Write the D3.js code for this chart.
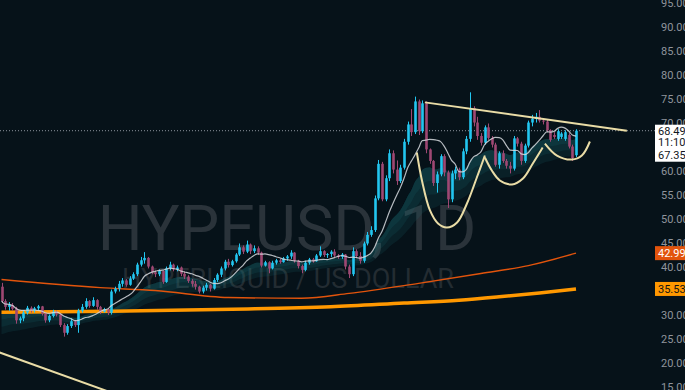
<!DOCTYPE html>
<html>
<head>
<meta charset="utf-8">
<script src="https://cdn.jsdelivr.net/npm/d3@7"></script>
<style>
  html, body { margin: 0; padding: 0; background: #061219; }
  svg { display: block; }
</style>
</head>
<body>
<svg id="chart" width="685" height="390"></svg>
<script>
// daily candles, [open, high, low, close]
const ohlc = [
  [36.0,36.8,32.6,33.0],[33.0,33.4,31.2,31.8],[31.8,32.8,31.0,32.2],[32.2,32.6,31.0,31.4],
  [31.4,31.8,28.3,29.0],[29.0,29.8,28.4,29.4],[29.4,31.0,28.8,30.6],[30.6,32.0,30.2,31.6],
  [31.6,31.9,30.6,31.0],[31.0,31.8,30.6,31.5],[31.5,32.2,31.0,31.9],[31.9,32.0,30.0,30.4],
  [30.4,30.6,28.5,29.0],[29.0,30.2,28.6,29.9],[29.9,31.2,29.6,30.8],[30.8,31.0,29.8,30.2],
  [30.2,30.4,27.6,28.0],[28.0,28.4,25.6,26.4],[26.4,28.2,26.0,27.8],[27.8,29.4,27.4,28.8],
  [28.8,29.0,27.6,28.0],[28.0,31.4,26.4,31.0],[31.0,32.4,30.6,31.8],[31.8,33.6,31.4,33.0],
  [33.0,33.2,31.6,32.0],[32.0,33.8,31.8,33.2],[33.2,33.4,31.2,31.8],[31.8,32.0,30.3,30.8],
  [30.8,31.6,30.6,31.3],[31.3,31.5,30.1,30.6],[30.6,35.4,30.2,35.0],[35.0,36.0,34.6,35.6],
  [35.6,37.2,35.0,36.6],[36.6,37.8,36.0,37.3],[37.3,37.6,36.0,36.4],[36.4,38.2,36.2,37.7],
  [37.7,39.0,37.4,38.6],[38.6,41.0,38.2,40.6],[40.6,42.2,40.2,41.5],[41.5,43.2,40.8,42.0],
  [42.0,42.2,39.8,40.2],[40.2,40.4,38.6,39.0],[39.0,39.4,38.0,38.6],[38.6,39.6,38.2,39.3],
  [39.3,39.4,36.6,37.0],[37.0,40.2,36.8,39.8],[39.8,41.2,39.4,40.6],[40.6,40.8,39.2,39.6],
  [39.6,40.4,39.2,40.0],[40.0,40.2,38.2,38.7],[38.7,39.2,37.6,38.1],[38.1,38.4,36.8,37.2],
  [37.2,37.6,36.0,36.6],[36.6,37.2,35.4,36.0],[36.0,36.2,34.6,35.0],[35.0,36.2,34.6,35.8],
  [35.8,36.8,35.2,36.4],[36.4,36.6,35.0,35.6],[35.6,37.8,35.4,37.4],[37.4,38.8,37.0,38.5],
  [38.5,40.2,38.0,39.8],[39.8,41.6,39.4,41.2],[41.2,41.8,40.0,40.5],[40.5,41.6,40.2,41.3],
  [41.3,43.0,41.0,42.7],[42.7,45.0,42.4,44.2],[44.2,44.6,42.8,43.3],[43.3,45.6,43.0,44.8],
  [44.8,45.0,42.8,43.4],[43.4,44.6,43.0,44.0],[44.0,44.4,42.6,43.1],[43.1,43.3,40.0,40.4],
  [40.4,41.4,40.2,41.1],[41.1,41.3,38.8,39.8],[39.8,41.4,39.6,41.0],[41.0,41.8,40.6,41.5],
  [41.5,41.8,40.8,41.1],[41.1,42.2,41.0,41.9],[41.9,42.6,41.4,42.3],[42.3,43.6,41.8,43.1],
  [43.1,43.2,41.0,41.4],[41.4,41.6,39.8,40.3],[40.3,40.6,38.8,39.5],[39.5,41.4,39.2,41.0],
  [41.0,42.0,40.6,41.7],[41.7,42.0,41.0,41.3],[41.3,42.8,41.2,42.5],[42.5,44.4,42.2,43.4],
  [43.4,43.6,42.2,42.6],[42.6,43.0,42.0,42.8],[42.8,43.6,42.2,43.3],[43.3,43.8,42.2,42.5],
  [42.5,42.8,41.8,42.2],[42.2,43.0,41.8,42.7],[42.7,42.8,39.6,40.2],[40.2,40.6,37.8,38.6],
  [38.6,44.2,38.2,43.4],[43.4,43.8,42.0,42.4],[42.4,43.2,40.8,41.4],[41.4,45.4,41.0,45.0],
  [45.0,47.4,44.6,46.8],[46.8,48.6,46.4,47.8],[47.8,55.0,47.4,54.4],[54.4,62.4,54.0,61.6],
  [61.6,62.0,53.8,54.2],[54.2,59.2,53.8,58.6],[58.6,64.6,58.0,63.8],[63.8,64.4,59.6,60.4],
  [60.4,62.3,57.2,58.0],[58.0,61.4,57.6,60.8],[60.8,66.8,60.4,66.2],[66.2,70.4,65.6,69.8],
  [69.8,73.0,67.4,68.2],[68.2,75.6,67.8,74.6],[74.6,75.0,67.6,68.4],[68.4,74.8,68.0,74.2],
  [74.2,74.6,63.8,64.6],[64.6,64.8,61.6,62.2],[62.2,62.4,57.0,57.6],[57.6,60.0,55.6,59.4],
  [59.4,63.6,59.0,63.2],[63.2,63.6,59.0,59.8],[59.8,60.2,52.4,54.2],[54.2,60.2,53.6,59.6],
  [59.6,61.0,58.4,60.4],[60.4,60.8,58.2,58.8],[58.8,64.8,58.4,64.2],[64.2,67.4,63.6,66.8],
  [66.8,76.5,66.2,73.2],[73.2,73.6,69.4,70.2],[70.2,71.4,66.6,67.4],[67.4,68.0,65.4,66.0],
  [66.0,69.6,65.6,69.2],[69.2,70.0,66.6,67.0],[67.0,67.4,65.0,65.6],[65.6,66.0,61.0,61.4],
  [61.4,64.2,60.6,63.8],[63.8,64.4,61.8,62.2],[62.2,62.6,60.6,61.2],[61.2,62.0,59.6,60.6],
  [60.6,67.4,60.2,66.9],[66.9,67.2,65.2,65.8],[65.8,66.2,61.4,62.2],[62.2,65.8,61.8,65.4],
  [65.4,70.6,65.0,70.2],[70.2,71.8,69.4,71.0],[71.0,72.2,70.2,71.4],[71.4,72.8,70.2,70.6],
  [70.6,71.0,69.8,70.4],[70.4,70.8,68.2,68.6],[68.6,68.8,66.2,66.6],[67.6,68.2,66.8,67.2],
  [66.8,68.8,66.4,68.4],[67.2,68.2,66.8,67.9],[66.8,68.6,66.4,68.2],[67.6,68.0,64.8,65.2],
  [65.2,65.6,62.2,62.8],[63.4,68.8,63.0,68.497]
]

// long moving averages, [day index, price]
const maOrange = [[0,30.7],[30,30.9],[63,31.3],[90,31.8],[110,32.6],[125,33.2],[136,33.9],[147,34.7],[157,35.531]]
const maRed = [[0,37.5],[27,35.8],[42,35.2],[62,33.75],[82,33.6],[95,34.6],[114,36.7],[131,38.75],[144,40.4],[157,42.991]]
// EMA cloud start values at the left edge (fast, slow)
const cloudSeed = [30.4, 25.8]

// drawings
const resistance = [[115.7,74.4],[170.9,68.5]]
const oldTrend = [[-0.5,22.3],[40,11.2]]
const cups = [
  [[113.5,63.96],[114.9,58.13],[117.1,51.88],[119.3,49.17],[121.7,48.33],[124.5,49.38],[127.2,53.33],[129.9,58.75],[132.1,63.33]],
  [[132.1,62.92],[134.0,60.21],[136.2,58.13],[139.5,57.29],[142.5,58.54],[145.2,61.67],[147.9,65.0]],
  [[148.5,65.83],[151.8,63.33],[155.9,62.5],[158.6,63.33],[160.8,66.25]]
]

const priceTicks = [95,90,85,80,75,70,65,60,55,50,45,40,35,30,25,20,15]
const lastPrice = 68.497
const countdown = "11:10:52"
const prevClose = 67.358

const W = 685, H = 390, plotRight = 655

const svg = d3.select('#chart')
const x = d3.scaleLinear().domain([0, ohlc.length - 1]).range([1.5, 576])
const y = d3.scaleLinear().domain([15, 95]).range([387.5, 3.5])

const upColor = '#22c6f0', downColor = '#9e4873'

// watermark
const wm = svg.append('g').attr('fill', '#2a333a').attr('text-anchor', 'middle')
  .style('font-family', 'Roboto, "Noto Sans", sans-serif')
wm.append('text').attr('x', 287).attr('y', 250).attr('font-size', 63).text('HYPEUSD, 1D')
wm.append('text').attr('x', 288).attr('y', 288).attr('font-size', 27).attr('fill', '#232c32')
  .text('HYPERLIQUID / US DOLLAR')

const plot = svg.append('g')
svg.append('clipPath').attr('id', 'clip').append('rect').attr('width', plotRight).attr('height', H)
plot.attr('clip-path', 'url(#clip)')

// indicators computed from closes
const closes = ohlc.map(d => d[3])
function ema(vals, n, seed) {
  const k = 2 / (n + 1)
  let e = seed
  return vals.map(v => (e = v * k + e * (1 - k)))
}
function sma(vals, n) {
  return vals.map((v, i) => d3.mean(vals.slice(Math.max(0, i - n + 1), i + 1)))
}
const fast = ema(closes, 20, cloudSeed[0])
const slow = ema(closes, 50, cloudSeed[1])
const ma10 = sma(closes, 10)

// cloud, fading away from the fast edge
const idx = d3.range(ohlc.length)
;[1, 0.66, 0.33].forEach(t => {
  plot.append('path')
    .datum(idx)
    .attr('fill', '#1f7a7c')
    .attr('fill-opacity', 0.14)
    .attr('d', d3.area()
      .x(i => x(i))
      .y0(i => y(fast[i]))
      .y1(i => y(fast[i] + t * (slow[i] - fast[i])))
      .curve(d3.curveMonotoneX))
})

// long MAs
const maLine = d3.line().x(d => x(d[0])).y(d => y(d[1])).curve(d3.curveMonotoneX)
plot.append('path').datum(maRed).attr('fill', 'none').attr('stroke', '#e2540c').attr('stroke-width', 1.4).attr('d', maLine)
plot.append('path').datum(maOrange).attr('fill', 'none').attr('stroke', '#ff9800').attr('stroke-width', 3.5).attr('d', maLine)

// last price dotted line
plot.append('line')
  .attr('x1', 0).attr('x2', plotRight)
  .attr('y1', y(lastPrice)).attr('y2', y(lastPrice))
  .attr('stroke', '#8c939c').attr('stroke-dasharray', '1,2')

// candles
const bw = 2.6
const c = plot.append('g').selectAll('g').data(ohlc).join('g')
  .attr('fill', d => d[3] >= d[0] ? upColor : downColor)
  .attr('stroke', d => d[3] >= d[0] ? upColor : downColor)
c.append('line')
  .attr('x1', (d, i) => Math.round(x(i)) + 0.5).attr('x2', (d, i) => Math.round(x(i)) + 0.5)
  .attr('y1', d => y(d[1])).attr('y2', d => y(d[2]))
  .attr('stroke-width', 1)
c.append('rect')
  .attr('x', (d, i) => Math.round(x(i)) + 0.5 - bw / 2)
  .attr('width', bw)
  .attr('y', d => y(Math.max(d[0], d[3])))
  .attr('height', d => Math.max(1, Math.abs(y(d[0]) - y(d[3]))))
  .attr('stroke', 'none')

// short MA
plot.append('path').datum(ma10)
  .attr('fill', 'none').attr('stroke', '#d6d9de').attr('stroke-opacity', 0.85).attr('stroke-width', 1.2)
  .attr('d', d3.line().x((d, i) => x(i)).y(d => y(d)).curve(d3.curveMonotoneX))

// drawings
const drawLine = d3.line().x(d => x(d[0])).y(d => y(d[1]))
const beige = '#e9dca6'
plot.append('path').datum(resistance).attr('fill', 'none').attr('stroke', beige).attr('stroke-width', 2).attr('d', drawLine)
plot.append('path').datum(oldTrend).attr('fill', 'none').attr('stroke', beige).attr('stroke-width', 2).attr('d', drawLine)
plot.selectAll('.cup').data(cups).join('path')
  .attr('class', 'cup')
  .attr('fill', 'none').attr('stroke', beige).attr('stroke-width', 2)
  .attr('d', drawLine.curve(d3.curveCatmullRom))

// price scale; ticks hidden behind the tags are left out, as the platform does
const tagValues = [maRed[maRed.length - 1][1], maOrange[maOrange.length - 1][1]]
const visibleTicks = priceTicks.filter(t =>
  !tagValues.some(v => Math.abs(y(v) - y(t)) < 7) &&
  !(y(t) > y(lastPrice) - 4 && y(t) < y(lastPrice) + 36))
const axis = svg.append('g').style('font-family', 'Roboto, "Noto Sans", sans-serif').attr('font-size', 11)
axis.selectAll('text').data(visibleTicks).join('text')
  .attr('x', 661).attr('y', d => y(d)).attr('dy', '0.35em')
  .attr('fill', '#8f949c')
  .text(d => d3.format('.3f')(d))

// tags
function tag(value, bg, fg) {
  const g = axis.append('g').attr('transform', `translate(655,${y(value)})`)
  g.append('rect').attr('x', 0).attr('y', -7).attr('width', 30).attr('height', 14).attr('fill', bg)
  g.append('text').attr('x', 3).attr('dy', '0.35em').attr('fill', fg).text(d3.format('.3f')(value))
}
tag(tagValues[0], '#e2540c', '#ffffff')
tag(tagValues[1], '#ff9800', '#131313')

const lp = axis.append('g').attr('transform', `translate(655,${y(lastPrice)})`)
lp.append('rect').attr('x', 0).attr('y', -6).attr('width', 30).attr('height', 37).attr('fill', '#ffffff')
lp.append('text').attr('x', 3).attr('y', 0).attr('dy', '0.35em').attr('fill', '#131722').text(d3.format('.3f')(lastPrice))
lp.append('text').attr('x', 3).attr('y', 11).attr('dy', '0.35em').attr('fill', '#131722').text(countdown)
lp.append('text').attr('x', 3).attr('y', 24).attr('dy', '0.35em').attr('fill', '#131722').text(d3.format('.3f')(prevClose))
</script>
</body>
</html>
